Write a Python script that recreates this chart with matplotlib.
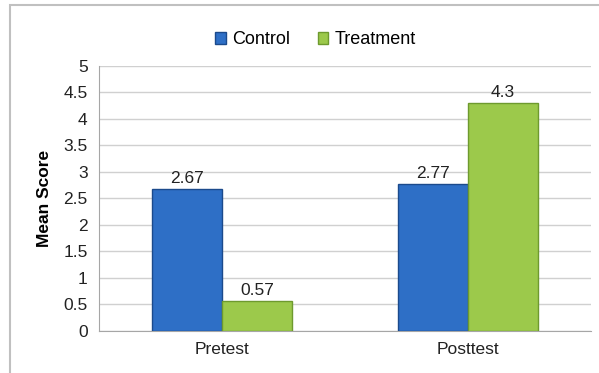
import numpy as np
import matplotlib.pyplot as plt
from matplotlib.patches import Rectangle

plt.rcParams['font.family'] = ['Liberation Sans', 'DejaVu Sans']

categories = ['Pretest', 'Posttest']
control = [2.67, 2.77]
treatment = [0.57, 4.3]
control_labels = ['2.67', '2.77']
treatment_labels = ['0.57', '4.3']

fig = plt.figure(figsize=(5.99, 3.73), dpi=100)
ax = fig.add_axes([0.165, 0.1126, 0.821, 0.7105])

# frame around the chart
fig.patches.append(Rectangle((10/599, -0.1), 1.2, (368/373) + 0.1, transform=fig.transFigure,
                             fill=False, edgecolor='#c0c0c0', linewidth=1.5))

x = np.arange(len(categories))
w = 0.285
ax.bar(x - w/2, control, w, color='#2e6fc6', edgecolor='#1b4a8c', linewidth=1, label='Control', zorder=3)
ax.bar(x + w/2, treatment, w, color='#9cc94b', edgecolor='#6e9a2e', linewidth=1, label='Treatment', zorder=3)

for xi, v, t in zip(x - w/2, control, control_labels):
    ax.text(xi, v + 0.06, t, ha='center', va='bottom', fontsize=12.5, color='#222222')
for xi, v, t in zip(x + w/2, treatment, treatment_labels):
    ax.text(xi, v + 0.06, t, ha='center', va='bottom', fontsize=12.5, color='#222222')

ax.set_xlim(-0.5, 1.5)
ax.set_ylim(0, 5)
ax.set_yticks(np.arange(0, 5.01, 0.5))
ax.set_yticklabels(['0', '0.5', '1', '1.5', '2', '2.5', '3', '3.5', '4', '4.5', '5'])
ax.set_xticks(x)
ax.set_xticklabels(categories)
ax.tick_params(axis='both', length=0, labelsize=12.5, colors='#222222')
ax.tick_params(axis='x', pad=8)
ax.tick_params(axis='y', pad=8)
ax.yaxis.grid(True, color='#d0d0d0', linewidth=1, zorder=0)
ax.set_axisbelow(True)
for s in ['top', 'right']:
    ax.spines[s].set_visible(False)
ax.spines['left'].set_color('#a6a6a6')
ax.spines['bottom'].set_color('#a6a6a6')
ax.set_ylabel('Mean Score', fontsize=12.5, fontweight='bold', labelpad=8)

ax.legend(loc='upper center', bbox_to_anchor=(0.527, 0.96), bbox_transform=fig.transFigure,
          ncol=2, frameon=False, fontsize=13, handlelength=0.6, handleheight=0.6,
          handletextpad=0.35, columnspacing=1.5)

fig.savefig('out.png', dpi=100)
